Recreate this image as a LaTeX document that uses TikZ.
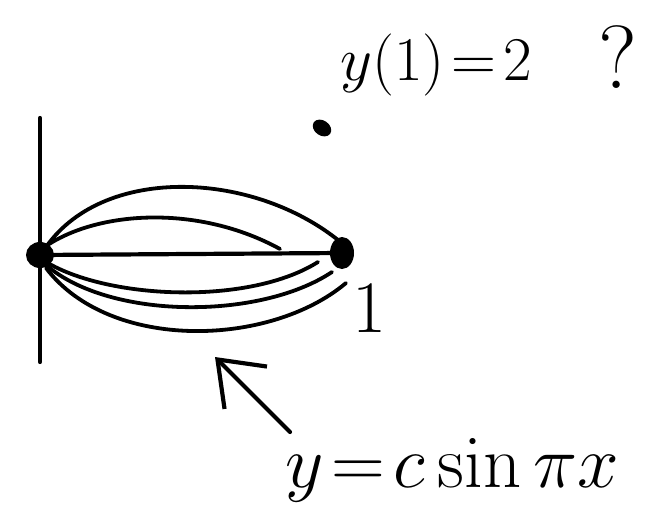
\documentclass[tikz,border=0pt]{standalone}
\usetikzlibrary{arrows.meta}
\begin{document}
\begin{tikzpicture}[x=1pt,y=-1pt,
  pen/.style={line width=4.2pt,line cap=round,line join=round,black},
  curve/.style={line width=3.8pt,line cap=round,black},
  hand/.style={inner sep=0pt,anchor=base west}]
\useasboundingbox (0,0) rectangle (646,514);
% axes
\coordinate (ytop) at (40,118);
\coordinate (ybot) at (40,362);
\coordinate (O) at (40,255);
\coordinate (P) at (342,253);
\draw[pen] (ytop) -- (ybot);
\draw[pen] (O) -- (P);
% end points
\fill (O) ellipse [x radius=14pt,y radius=13pt];
\fill (P) ellipse [x radius=12pt,y radius=16pt];
% curves
\draw[curve] (44,250) .. controls (100,165) and (250,170) .. (338,240);
\draw[curve] (46,246) .. controls (100,210) and (200,205) .. (280,249);
\draw[curve] (46,262) .. controls (110,300) and (250,305) .. (318,262);
\draw[curve] (46,265) .. controls (110,320) and (260,320) .. (332,272);
\draw[curve] (46,268) .. controls (110,352) and (270,347) .. (346,283);
% isolated point
\fill[rotate around={-35:(322,128)}] (322,128) ellipse [x radius=10pt,y radius=7.5pt];
\coordinate (Q) at (322,128);
% labels
\node[hand] (lq) at (340,80) {\scalebox{2.5}{\Huge $y(1)\!=\!2$}};
\node[hand] (qm) at (598,88) {\scalebox{3.6}{\Huge ?}};
\node[hand] (one) at (352,332) {\fontsize{74}{78}\selectfont 1};
\node[hand] (lf) at (285,487) {\scalebox{3.0}{\Huge $y\!=\!c\sin\pi x$}};
% arrow
\coordinate (atip) at (215,357);
\coordinate (atail) at (290,432);
\draw[pen,-{Straight Barb[length=40pt,width=60pt,line width=4.2pt]}] (atail) -- (atip);
\end{tikzpicture}
\end{document}
